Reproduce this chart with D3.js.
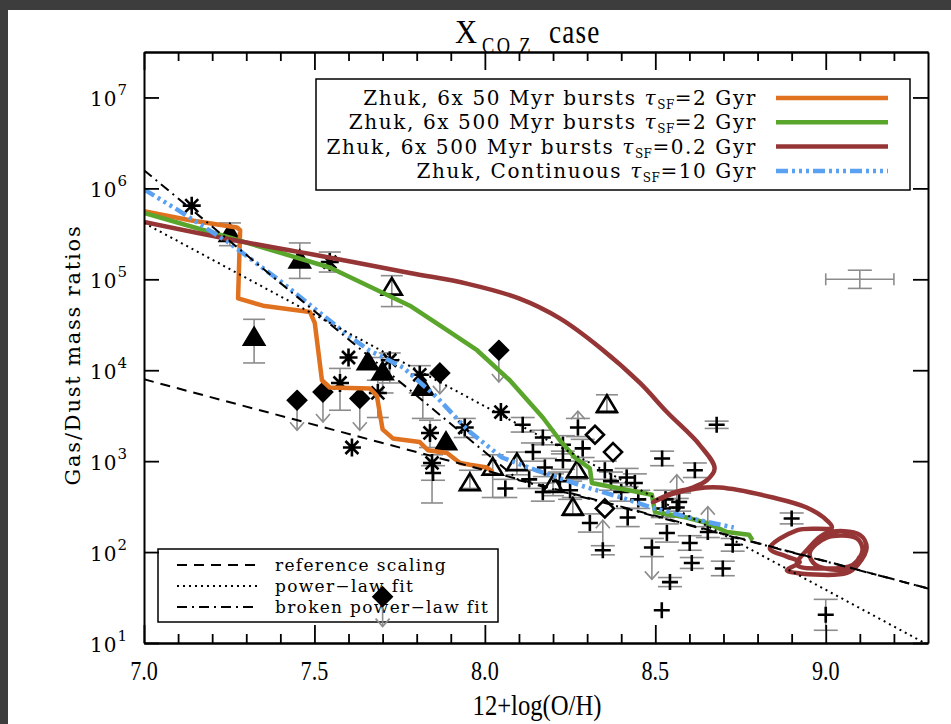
<!DOCTYPE html>
<html>
<head>
<meta charset="utf-8">
<script src="https://cdn.jsdelivr.net/npm/d3@7"></script>
<style>
body { margin: 0; background: #3d3d3d; }
svg { display: block; }
</style>
</head>
<body>
<svg id="chart" width="951" height="724"></svg>
<script>
// ---- data: [12+log(O/H), log10(G/D)] ----
const xMajorTicks = [7.0, 7.5, 8.0, 8.5, 9.0]
const xMinorTicks = [7.1,7.2,7.3,7.4,7.6,7.7,7.8,7.9,8.1,8.2,8.3,8.4,8.6,8.7,8.8,8.9,9.1,9.2]
const yTickExps = [1, 2, 3, 4, 5, 6, 7]

// model tracks
const burst50 = [[7.00,5.75],[7.135,5.65],[7.273,5.57],[7.282,5.54],[7.276,4.79],[7.349,4.71],[7.487,4.64],[7.501,4.52],[7.522,3.89],[7.545,3.81],[7.663,3.80],[7.683,3.72],[7.70,3.35],[7.73,3.25],[7.809,3.21],[7.833,3.12],[7.889,3.09],[7.927,2.98],[7.956,2.96],[8.006,2.93],[8.023,2.88]]
const burst500 = [[7.0,5.73],[7.25,5.46],[7.545,5.13],[7.78,4.71],[7.889,4.44],[7.977,4.22],[8.073,3.89],[8.17,3.48],[8.22,3.23],[8.264,3.04],[8.308,2.92],[8.314,2.76],[8.396,2.70],[8.49,2.63],[8.499,2.44],[8.592,2.38],[8.651,2.32],[8.71,2.22],[8.775,2.19],[8.785,2.13]]
const burst500fast = [[7.0,5.63],[7.25,5.44],[7.5,5.27],[7.78,5.07],[7.95,4.95],[8.10,4.79],[8.22,4.57],[8.337,4.25],[8.455,3.86],[8.534,3.54],[8.63,3.18],[8.674,2.92],[8.651,2.79],[8.61,2.71],[8.551,2.65],[8.493,2.55],[8.551,2.64],[8.622,2.70],[8.689,2.71],[8.845,2.60],[8.944,2.49],[9.003,2.35],[9.018,2.27],[8.915,2.24],[8.836,2.04],[8.886,1.95],[8.924,1.89],[8.886,1.80],[8.915,1.77],[9.062,1.77],[9.094,1.86],[9.12,2.05],[9.10,2.19],[9.003,2.21],[8.944,2.02],[8.915,1.86],[8.991,1.82],[9.079,1.86],[9.108,2.02],[9.091,2.15],[9.003,2.16],[8.953,1.99],[8.97,1.86],[9.07,1.82],[9.10,1.95]]
const continuous = [[7.0,5.99],[7.1,5.76],[7.25,5.40],[7.4,4.98],[7.5,4.68],[7.6,4.38],[7.66,4.22],[7.76,4.03],[7.86,3.70],[7.95,3.34],[8.05,3.04],[8.15,2.90],[8.30,2.71],[8.40,2.60],[8.49,2.49],[8.56,2.42],[8.63,2.35],[8.73,2.27]]

// scaling relations (end points)
const refScaling = [[7.0,3.90],[9.3,1.60]]
const powerLawFit = [[7.0,5.62],[9.3,0.98]]
const brokenFit = [[7.0,6.20],[8.10,2.79],[9.3,1.60]]

// observations: [oh, logGD, errLo, errHi]
const asterisks = [[7.14,5.81,null,null],[7.545,5.19,5.30,5.08],[7.60,4.14,null,null],[7.721,4.11,4.19,3.86],[7.575,3.86,4.02,3.56],[7.686,3.75,3.89,3.48],[7.61,3.15,null,null],[7.809,3.95,4.05,3.75],[8.047,3.54,null,null],[7.941,3.37,3.47,3.26],[7.839,3.31,3.45,3.15],[7.845,2.98,3.07,2.54]]
const filledTriangles = [[7.252,5.50,5.62,5.37],[7.457,5.21,5.40,5.01],[7.323,4.36,4.56,4.08],[7.657,4.09,null,null],[7.70,3.98,4.14,3.75],[7.818,3.81,3.95,3.47],[7.886,3.21,null,null]]
const openTriangles = [[7.727,4.91,5.04,4.70],[7.956,2.76,2.90,2.70],[8.023,2.93,3.07,2.60],[8.094,2.98,3.10,2.85],[8.358,3.62,3.73,3.53],[8.27,2.90,3.00,2.80],[8.20,2.74,2.86,2.62],[8.258,2.49,2.60,2.40]]
const openDiamonds = [[8.323,3.29],[8.376,3.10],[8.352,2.48]]
// upper limits: [oh, logGD, arrow tip]
const filledDiamonds = [[7.449,3.67,3.34],[7.525,3.76,3.43],[7.633,3.69,3.34],[7.868,3.97,3.74],[8.041,4.22,3.87],[7.70,1.51,1.18]]
// crosses: [oh, logGD, half error]
const crosses = [[8.111,3.40,0.08],[8.17,3.26,0.08],[8.141,3.10,0.1],[8.176,2.93,0.1],[8.229,3.18,0.1],[8.229,3.01,0.1],[8.17,2.66,0.1],[8.273,3.37,0.1],[8.287,3.14,0.1],[8.52,3.03,0.08],[8.616,2.90,0.08],[8.68,3.40,0.04],[8.352,2.90,0.1],[8.416,2.82,0.1],[8.44,2.76,0.1],[8.308,2.32,0.1],[8.419,2.38,0.1],[8.346,2.02,0.05],[8.49,2.05,0.1],[8.534,2.21,0.1],[8.543,1.67,0.05],[8.519,1.36,0],[8.607,1.88,0.06],[8.601,2.10,0.08],[8.654,2.22,0.06],[8.698,1.82,0.08],[8.727,2.08,0.07],[8.563,2.49,0.1],[8.522,2.48,0.1],[8.90,2.37,0.06],[9.0,1.31,0.17],[7.848,2.87,0.08],[8.22,2.78,0.1],[8.25,2.68,0.1],[8.37,2.78,0.1],[8.40,2.66,0.1],[8.45,2.58,0.1],[8.53,2.58,0.1],[8.57,2.55,0.1],[8.06,2.70,0.1],[8.13,2.80,0.1]]
// limit arrows on crosses: [oh, from, to]
const crossArrows = [[8.273,3.37,3.55],[8.346,2.02,2.35],[8.49,2.05,1.70],[8.654,2.22,2.50],[8.563,2.49,2.85]]
// typical error bar: [oh, logGD, dOH, dlog]
const typicalError = [9.1, 5.0, 0.1, 0.1]

const models = [
  {name: "Zhuk, 6x 50 Myr bursts ", tau: "=2 Gyr", color: "#e0711f", data: burst50, dash: null},
  {name: "Zhuk, 6x 500 Myr bursts ", tau: "=2 Gyr", color: "#5aa52c", data: burst500, dash: null},
  {name: "Zhuk, 6x 500 Myr bursts ", tau: "=0.2 Gyr", color: "#953535", data: burst500fast, dash: null},
  {name: "Zhuk, Continuous ", tau: "=10 Gyr", color: "#5aa1f2", data: continuous, dash: "12,4,3,4,3,4,3,4"}
]
const fits = [
  {name: "reference scaling", data: refScaling, dash: "10,7"},
  {name: "power\u2212law fit", data: powerLawFit, dash: "2,4"},
  {name: "broken power\u2212law fit", data: brokenFit, dash: "10,5,2,5"}
]

const svg = d3.select("#chart")
svg.append("rect").attr("x", 8).attr("y", 10).attr("width", 943).attr("height", 714).attr("fill", "#fff")

const x = d3.scaleLinear().domain([7.0, 9.3]).range([144, 928])
const y = d3.scaleLog().domain([10, Math.pow(10, 7.5)]).range([643, 52])
const Y = v => y(Math.pow(10, v))

svg.append("clipPath").attr("id", "plotclip").append("rect")
    .attr("x", 144).attr("y", 52).attr("width", 784).attr("height", 591)

const grey = "#8c8c8c"
const serif = "DejaVu Serif, serif"

// ---- legend 2 (no fill, under points) ----
let leg2 = svg.append("g")
leg2.append("rect").attr("x", 158).attr("y", 549).attr("width", 340).attr("height", 73)
    .attr("fill", "none").attr("stroke", "#000").attr("stroke-width", 1.5)
fits.forEach((f, i) => {
    let cy = 565 + i * 21
    leg2.append("line").attr("x1", 177).attr("x2", 257).attr("y1", cy).attr("y2", cy)
        .attr("stroke", "#000").attr("stroke-width", 2).attr("stroke-dasharray", f.dash)
    leg2.append("text").attr("x", 275).attr("y", cy + 6).text(f.name)
        .style("font-family", serif).style("font-size", "17px").style("letter-spacing", "1.3px")
})

// ---- observations ----
let pts = svg.append("g").attr("clip-path", "url(#plotclip)")
let errG = pts.append("g").attr("stroke", grey).attr("stroke-width", 1.6).attr("fill", "none")

function vErr(oh, lo, hi, cap) {
    let px = x(oh)
    errG.append("line").attr("x1", px).attr("x2", px).attr("y1", Y(lo)).attr("y2", Y(hi))
    errG.append("line").attr("x1", px - cap).attr("x2", px + cap).attr("y1", Y(lo)).attr("y2", Y(lo))
    errG.append("line").attr("x1", px - cap).attr("x2", px + cap).attr("y1", Y(hi)).attr("y2", Y(hi))
}
function arrow(oh, from, to) {
    let px = x(oh), y1 = Y(from), y2 = Y(to)
    let dir = y2 > y1 ? -1 : 1
    errG.append("line").attr("x1", px).attr("x2", px).attr("y1", y1).attr("y2", y2)
    errG.append("path").attr("d", `M${px - 7},${y2 + dir * 8}L${px},${y2}L${px + 7},${y2 + dir * 8}`)
}

asterisks.concat(filledTriangles, openTriangles).forEach(d => { if (d[2] != null) vErr(d[0], d[2], d[3], 11) })
crosses.forEach(d => { if (d[2] > 0) vErr(d[0], d[1] - d[2], d[1] + d[2], 12) })
filledDiamonds.forEach(d => arrow(d[0], d[1], d[2]))
crossArrows.forEach(d => arrow(d[0], d[1], d[2]))

// typical error bar
{
    let [oh, lg, dx, dl] = typicalError
    vErr(oh, lg - dl, lg + dl, 12)
    errG.append("line").attr("x1", x(oh - dx)).attr("x2", x(oh + dx)).attr("y1", Y(lg)).attr("y2", Y(lg))
    errG.append("line").attr("x1", x(oh - dx)).attr("x2", x(oh - dx)).attr("y1", Y(lg) - 6).attr("y2", Y(lg) + 6)
    errG.append("line").attr("x1", x(oh + dx)).attr("x2", x(oh + dx)).attr("y1", Y(lg) - 6).attr("y2", Y(lg) + 6)
}

const shapes = {
    asterisk: r => `M0,${-r}V${r}M${-r},0H${r}M${-r*0.72},${-r*0.72}L${r*0.72},${r*0.72}M${-r*0.72},${r*0.72}L${r*0.72},${-r*0.72}`,
    plus: r => `M0,${-r}V${r}M${-r},0H${r}`,
    triangle: r => `M0,${-r}L${r*1.05},${r*0.75}L${-r*1.05},${r*0.75}Z`,
    diamond: r => `M0,${-r}L${r},0L0,${r}L${-r},0Z`
}
function drawSymbols(data, shape, r, filled) {
    pts.append("g").selectAll("path").data(data).join("path")
        .attr("transform", d => `translate(${x(d[0])},${Y(d[1])})`)
        .attr("d", shapes[shape](r))
        .attr("fill", filled ? "#000" : "none")
        .attr("stroke", "#000").attr("stroke-width", 2.6)
        .attr("stroke-linejoin", "miter")
}
drawSymbols(crosses, "plus", 8, false)
drawSymbols(asterisks, "asterisk", 9, false)
drawSymbols(openTriangles, "triangle", 9.5, false)
drawSymbols(filledTriangles, "triangle", 9.5, true)
drawSymbols(openDiamonds, "diamond", 9, false)
drawSymbols(filledDiamonds, "diamond", 9, true)

// ---- model tracks ----
let line = d3.line().x(d => x(d[0])).y(d => Y(d[1]))
let modelG = svg.append("g").attr("clip-path", "url(#plotclip)")
models.forEach((m, i) => {
    modelG.append("path").attr("d", (i == 2 ? line.curve(d3.curveCatmullRom.alpha(0.5)) : line.curve(d3.curveLinear))(m.data))
        .attr("fill", "none").attr("stroke", m.color).attr("stroke-width", 4.5)
        .attr("stroke-linejoin", "round")
        .attr("stroke-dasharray", m.dash)
})
line.curve(d3.curveLinear)

// ---- scaling relations ----
let fitG = svg.append("g").attr("clip-path", "url(#plotclip)")
fits.forEach(f => {
    fitG.append("path").attr("d", line(f.data)).attr("fill", "none")
        .attr("stroke", "#000").attr("stroke-width", 2).attr("stroke-dasharray", f.dash)
})

// ---- axes ----
function styleAxis(g) {
    g.select(".domain").attr("stroke", "#000").attr("stroke-width", 2)
    g.selectAll(".tick line").attr("stroke", "#000").attr("stroke-width", 1.8)
}
svg.append("g").attr("transform", "translate(0,643)")
    .call(d3.axisBottom(x).tickValues(xMinorTicks).tickSize(-9).tickSizeOuter(0).tickFormat("")).call(styleAxis)
svg.append("g").attr("transform", "translate(0,643)")
    .call(d3.axisBottom(x).tickValues(xMajorTicks).tickSize(-18).tickSizeOuter(0).tickFormat("")).call(styleAxis)
svg.append("g").attr("transform", "translate(0,52)")
    .call(d3.axisTop(x).tickValues(xMinorTicks).tickSize(-9).tickSizeOuter(0).tickFormat("")).call(styleAxis)
svg.append("g").attr("transform", "translate(0,52)")
    .call(d3.axisTop(x).tickValues(xMajorTicks).tickSize(-18).tickSizeOuter(0).tickFormat("")).call(styleAxis)
svg.append("g").attr("transform", "translate(144,0)")
    .call(d3.axisLeft(y).tickValues(yTickExps.map(e => Math.pow(10, e))).tickSize(-15).tickSizeOuter(0).tickFormat("")).call(styleAxis)
svg.append("g").attr("transform", "translate(928,0)")
    .call(d3.axisRight(y).tickValues(yTickExps.map(e => Math.pow(10, e))).tickSize(-15).tickSizeOuter(0).tickFormat("")).call(styleAxis)

// tick labels
svg.append("g").selectAll("text").data(xMajorTicks).join("text")
    .attr("transform", d => `translate(${x(d)},680) scale(0.82,1)`)
    .attr("text-anchor", "middle")
    .style("font-family", "Liberation Serif").style("font-size", "27px")
    .text(d => d.toFixed(1))

let yl = svg.append("g").selectAll("text").data(yTickExps).join("text")
    .attr("x", 128).attr("y", d => Y(d) + 9)
    .attr("text-anchor", "end")
    .style("font-family", serif).style("font-size", "20px").style("letter-spacing", "1px")
    .text("10")
yl.append("tspan").attr("dy", -11).style("font-size", "15px").text(d => d)

// axis titles
svg.append("text").attr("transform", "translate(537,715) scale(0.85,1)").attr("text-anchor", "middle")
    .style("font-family", "Liberation Serif").style("font-size", "29px").text("12+log(O/H)")
svg.append("text").attr("transform", "translate(80,355) rotate(-90)").attr("text-anchor", "middle")
    .style("font-family", serif).style("font-size", "21px").style("letter-spacing", "1.8px")
    .text("Gas/Dust mass ratios")

// title
svg.append("text").attr("transform", "translate(455,43) scale(0.9,1)")
    .style("font-family", "Liberation Serif").style("font-size", "34px").text("X")
svg.append("text").attr("transform", "translate(482,53) scale(0.8,1)")
    .style("font-family", "Liberation Serif").style("font-size", "23px").style("letter-spacing", "3px").text("CO Z")
svg.append("text").attr("transform", "translate(549,43) scale(0.8,1)")
    .style("font-family", "Liberation Serif").style("font-size", "34px").style("letter-spacing", "1.5px").text("case")

// ---- legend 1 ----
let leg1 = svg.append("g")
leg1.append("rect").attr("x", 316).attr("y", 79).attr("width", 594).attr("height", 111)
    .attr("fill", "#fff").attr("stroke", "#000").attr("stroke-width", 1.5)
models.forEach((m, i) => {
    let cy = 98 + i * 24.3
    let t = leg1.append("text").attr("x", 757).attr("y", cy + 7).attr("text-anchor", "end")
        .style("font-family", serif).style("font-size", "20px").style("letter-spacing", "1.6px")
    t.append("tspan").text(m.name)
    t.append("tspan").style("font-style", "italic").text("\u03c4")
    t.append("tspan").attr("dy", 4).style("font-size", "12px").style("letter-spacing", "0.5px").text("SF")
    t.append("tspan").attr("dy", -4).text(m.tau)
    leg1.append("line").attr("x1", 776).attr("x2", 888).attr("y1", cy).attr("y2", cy)
        .attr("stroke", m.color).attr("stroke-width", 4.5).attr("stroke-dasharray", m.dash)
})
</script>
</body>
</html>
